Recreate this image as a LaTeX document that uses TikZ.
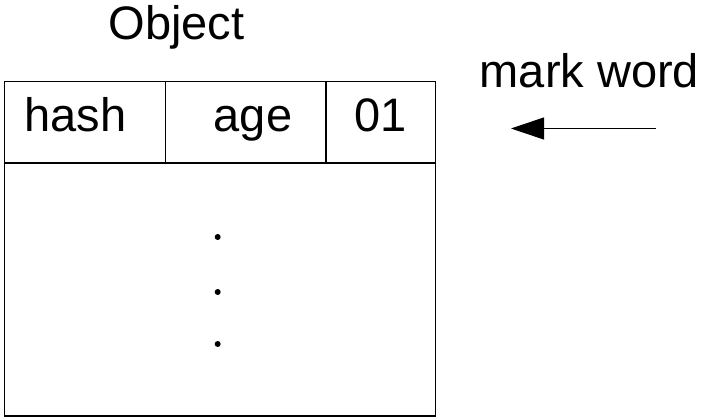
\documentclass[tikz,border=0pt]{standalone}
\usepackage{fontspec}
\setmainfont{Liberation Sans}
\usetikzlibrary{arrows.meta}
\begin{document}
\begin{tikzpicture}[x=1pt,y=-1pt,
  label/.style={inner sep=0pt,anchor=base,font=\fontsize{47}{56}\selectfont},
  cellline/.style={line width=1.5pt},
  pointer/.style={line width=1pt,-{Triangle[length=33pt,width=22pt]}}]
  \useasboundingbox (0,0) rectangle (701,419);
  % object layout: header row with three fields, body below
  \draw[cellline] (4.5,81.5) rectangle (435.5,416);
  \draw[cellline] (4.5,163) -- (435.5,163);
  \draw[cellline] (165.5,81.5) -- (165.5,163);
  \draw[cellline] (326,81.5) -- (326,163);
  \node[label] (title) at (176.5,40) {Object};
  \node[label] (hash) at (75.5,132) {hash};
  \node[label] (age) at (253,132) {age};
  \node[label] (bits) at (381,132) {01};
  % ellipsis in the body
  \foreach \yy in {237,292,344} \fill (217.7,\yy) circle (3pt);
  % mark word pointer
  \node[label] (mw) at (589.5,88) {mark word};
  \coordinate (from) at (656,128.5);
  \coordinate (to) at (511,128.5);
  \draw[pointer] (from) -- (to);
\end{tikzpicture}
\end{document}
